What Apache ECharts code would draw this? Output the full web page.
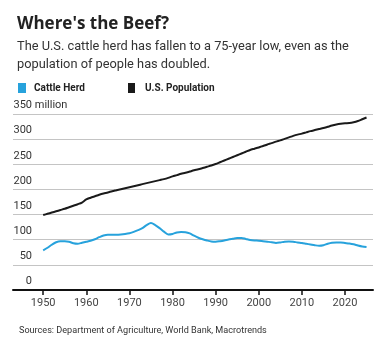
<!DOCTYPE html>
<html>
<head>
<meta charset="utf-8">
<script src="https://cdn.jsdelivr.net/npm/echarts@6/dist/echarts.min.js"></script>
<style>
html,body{margin:0;padding:0;background:#fff;}
#chart{width:387px;height:355px;}
</style>
</head>
<body>
<div id="chart"></div>
<script>
var years = [];
for (var y = 1950; y <= 2025; y++) years.push(y);

var cattleHerd = [
  79, 84, 90, 95, 97, 97, 96, 93, 92, 94,
  96, 98, 101, 105, 108.5, 110, 110, 110, 110.5, 111.5,
  113, 115.5, 119, 123, 129, 133, 129, 123, 116, 110.5,
  111.5, 114.5, 115.5, 115, 112.5, 108, 104, 101, 98.5, 96.5,
  96, 97, 98.5, 100.5, 102, 103.5, 103.5, 101.5, 99.5, 98.5,
  98, 97, 96, 95, 93.5, 94.5, 96, 96.5, 96, 94.5,
  93.5, 92, 90.5, 89, 88, 89, 92, 94, 94.5, 94.5,
  93.5, 92.5, 91, 88.5, 86.5, 85.5
];

var usPopulation = [
  149, 151.5, 154, 156.5, 159, 161.5, 164.5, 167.5, 170.5, 174,
  180, 183.5, 186.5, 189.5, 192, 194, 196.5, 198.5, 200.5, 202.5,
  204.5, 206.5, 208.5, 210.5, 212.5, 214.5, 216.5, 218.5, 220.5, 223,
  226, 228.5, 231, 233, 235.5, 238, 240, 242.5, 245, 247.5,
  250.5, 254, 257.5, 261, 264.5, 268, 271.5, 275, 278.5, 281,
  283.5, 286.5, 289.5, 292, 295, 297.5, 300.5, 303.5, 306.5, 309,
  311, 313.5, 316, 318, 320, 322, 324.5, 327, 329, 330.5,
  331.5, 332, 333.5, 336, 339.5, 343
];

var xTickYears = [1950, 1960, 1970, 1980, 1990, 2000, 2010, 2020];
var yTicks = [0, 50, 100, 150, 200, 250, 300, 350];

var seriesNames = ['Cattle Herd', 'U.S. Population'];

function pairs(vals) {
  return years.map(function (yr, i) { return [yr, vals[i]]; });
}

var chart = echarts.init(document.getElementById('chart'), null, {renderer: 'canvas'});
var FONT = 'Roboto';
chart.setOption({
  animation: false,
  backgroundColor: '#ffffff',
  title: [{
    text: "Where's the Beef?",
    left: 12,
    top: 11,
    textStyle: {fontFamily: 'Open Sans', fontSize: 17, fontWeight: 'bold', color: '#222'}
  }, {
    text: 'The U.S. cattle herd has fallen to a 75-year low, even as the\npopulation of people has doubled.',
    left: 12,
    top: 33,
    textStyle: {fontFamily: FONT, fontSize: 12.8, fontWeight: 'normal', color: '#333', lineHeight: 17.6}
  }, {
    text: 'Sources: Department of Agriculture, World Bank, Macrotrends',
    left: 14,
    top: 321,
    textStyle: {fontFamily: FONT, fontSize: 9.1, fontWeight: 'normal', color: '#333'}
  }],
  legend: [{
    data: [seriesNames[0]],
    left: 13, top: 78,
    icon: 'rect', itemWidth: 8, itemHeight: 10,
    textStyle: {fontFamily: FONT, fontSize: 10, fontWeight: 'bold', color: '#222', padding: [0, 0, 0, 3]}
  }, {
    data: [seriesNames[1]],
    left: 123, top: 78,
    icon: 'rect', itemWidth: 7, itemHeight: 10,
    textStyle: {fontFamily: FONT, fontSize: 10, fontWeight: 'bold', color: '#222', padding: [0, 0, 0, 5]}
  }],
  grid: {left: 13, right: 14, top: 114, bottom: 65, containLabel: false},
  xAxis: {
    type: 'value',
    min: 1943,
    max: 2026.5,
    splitLine: {show: false},
    axisLine: {show: true, lineStyle: {color: '#111', width: 2}},
    axisTick: {show: true, customValues: xTickYears, length: 5, lineStyle: {color: '#111', width: 1.5}},
    axisLabel: {customValues: xTickYears, fontFamily: FONT, fontSize: 11, color: '#444', margin: 8,
      formatter: function (v) { return String(v); }}
  },
  yAxis: {
    type: 'value',
    min: 0,
    max: 350,
    interval: 50,
    axisLine: {show: false},
    axisTick: {show: false},
    splitLine: {show: true, lineStyle: {color: '#c4c4c4', width: 1}},
    axisLabel: {
      inside: true,
      margin: 0,
      align: 'left',
      verticalAlign: 'bottom',
      padding: [0, 0, 3, 0],
      fontFamily: FONT, fontSize: 11, color: '#333',
      formatter: function (v) {
        return v === 350 ? '{a|350}{m| million}' : '{a|' + v + '}';
      },
      rich: {
        a: {fontFamily: FONT, fontSize: 11, color: '#333', width: 19, align: 'right'},
        m: {fontFamily: FONT, fontSize: 11, color: '#333', align: 'right'}
      }
    }
  },
  series: [{
    name: seriesNames[0],
    type: 'line',
    data: pairs(cattleHerd),
    showSymbol: false,
    smooth: 0.3,
    color: '#27a2dc',
    lineStyle: {width: 2, color: '#27a2dc'}
  }, {
    name: seriesNames[1],
    type: 'line',
    data: pairs(usPopulation),
    showSymbol: false,
    smooth: 0.3,
    color: '#1a1a1a',
    lineStyle: {width: 2, color: '#1a1a1a'}
  }]
});
</script>
</body>
</html>
